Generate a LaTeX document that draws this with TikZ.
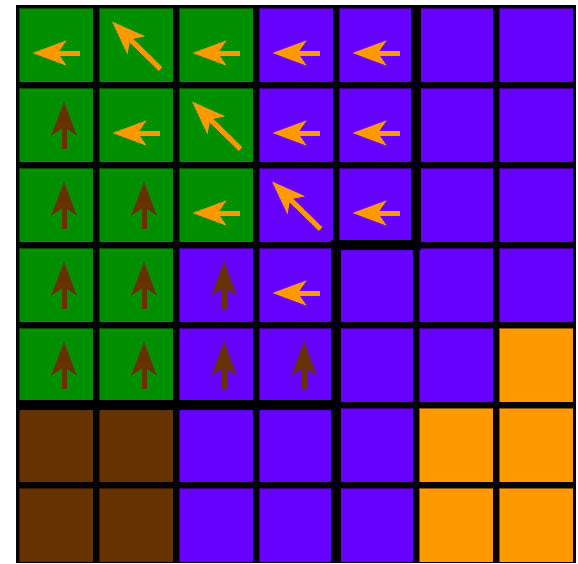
\documentclass[tikz,border=0pt]{standalone}
\usepackage{tikz}
\usetikzlibrary{arrows.meta}

\definecolor{cellgreen}{RGB}{0,143,0}
\definecolor{cellpurple}{RGB}{102,0,255}
\definecolor{cellorange}{RGB}{255,153,0}
\definecolor{cellbrown}{RGB}{102,51,0}

\begin{document}
\begin{tikzpicture}[x=1pt,y=-1pt,
  cell/.style={draw=black,draw opacity=0.45,line width=1pt,minimum size=74pt,inner sep=0pt,outer sep=0pt},
  wall/.style={draw=black,line width=10pt},
  flowtip/.style={line width=5pt,-{Stealth[length=33.5pt,width=24.5pt,inset=8pt]}},
  goleft/.style={flowtip,draw=cellorange},
  goup/.style={flowtip,draw=cellbrown}]
\useasboundingbox (0,0) rectangle (578,563);
\fill[black] (16,5) rectangle (576,563);
% grid cells, row by row
\foreach \r/\cols in {1/{green,green,green,purple,purple,purple,purple},
                      2/{green,green,green,purple,purple,purple,purple},
                      3/{green,green,green,purple,purple,purple,purple},
                      4/{green,green,purple,purple,purple,purple,purple},
                      5/{green,green,purple,purple,purple,purple,orange},
                      6/{brown,brown,purple,purple,purple,orange,orange},
                      7/{brown,brown,purple,purple,purple,orange,orange}}
  \foreach \k [count=\c] in \cols
    \node[cell,fill=cell\k] (c-\r-\c) at (80*\c-24,80*\r-35) {};
% walls
\draw[wall] (416,5) -- (416,245) -- (336,245) -- (336,563);
\draw[wall] (16,405) -- (336,405);
% flow arrows
\foreach \r/\c in {1/1,1/3,1/4,1/5,2/2,2/4,2/5,3/3,3/5,4/4}
  \draw[goleft] ([shift={(24,8)}]c-\r-\c.center) -- ([shift={(-23.5,8)}]c-\r-\c.center);
\foreach \r/\c in {1/2,2/3,3/4}
  \draw[goleft] ([shift={(24.5,24)}]c-\r-\c.center) -- ([shift={(-24,-23.5)}]c-\r-\c.center);
\foreach \r/\c in {2/1,3/1,3/2,4/1,4/2,4/3,5/1,5/2,5/3,5/4}
  \draw[goup] ([shift={(8,24)}]c-\r-\c.center) -- ([shift={(8,-23.5)}]c-\r-\c.center);
\end{tikzpicture}
\end{document}
